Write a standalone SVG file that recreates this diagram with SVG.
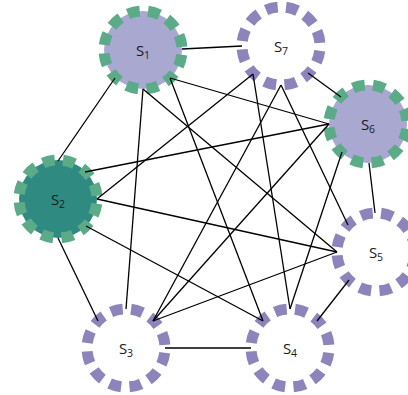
<svg xmlns="http://www.w3.org/2000/svg" width="408" height="395" viewBox="0 0 408 395">
  <style>
    /* r = 39: circumference 245.04, twelve dash periods of 20.42 */
    .ring { stroke-width: 11; stroke-dasharray: 12 8.42; stroke-dashoffset: -4.8; }
    .green { stroke: #5bab89; }
    .purple { stroke: #8d84bb; }
    .lav { fill: #a9a8d1; }
    .teal { fill: #2f8b81; }
    .white { fill: #ffffff; }
    .lbl { font-family: "Open Sans", "Liberation Sans", sans-serif; font-size: 15px; fill: #1a1a1a; text-anchor: middle; }
    .sub { font-size: 10.5px; }
    #edges line { stroke: #000000; stroke-width: 1.3; }
  </style>

  <!-- nodes: filled disk with a dashed ring -->
  <g id="S1">
    <circle cx="143" cy="50" r="39" class="ring lav green"/>
    <text class="lbl" x="143" y="56">S<tspan class="sub" dy="3">1</tspan></text>
  </g>
  <g id="S7">
    <circle cx="281" cy="46" r="39" class="ring white purple"/>
    <text class="lbl" x="281" y="52">S<tspan class="sub" dy="3">7</tspan></text>
  </g>
  <g id="S6">
    <circle cx="368" cy="124" r="39" class="ring lav green"/>
    <text class="lbl" x="368" y="130">S<tspan class="sub" dy="3">6</tspan></text>
  </g>
  <g id="S2">
    <circle cx="58" cy="199" r="39" class="ring teal green"/>
    <text class="lbl" x="58" y="205">S<tspan class="sub" dy="3">2</tspan></text>
  </g>
  <g id="S5">
    <circle cx="376" cy="252" r="39" class="ring white purple"/>
    <text class="lbl" x="376" y="258">S<tspan class="sub" dy="3">5</tspan></text>
  </g>
  <g id="S3">
    <circle cx="126" cy="348" r="39" class="ring white purple"/>
    <text class="lbl" x="126" y="354">S<tspan class="sub" dy="3">3</tspan></text>
  </g>
  <g id="S4">
    <circle cx="290" cy="348" r="39" class="ring white purple"/>
    <text class="lbl" x="290" y="354">S<tspan class="sub" dy="3">4</tspan></text>
  </g>

  <!-- connectors between anchor points on the rings -->
  <g id="edges">
    <line x1="182" y1="49" x2="242" y2="46"/>
    <line x1="115" y1="78" x2="58" y2="161"/>
    <line x1="143" y1="89" x2="126" y2="309"/>
    <line x1="143" y1="89" x2="337" y2="252"/>
    <line x1="170" y1="78" x2="329" y2="124"/>
    <line x1="170" y1="78" x2="263" y2="321"/>

    <line x1="253" y1="74" x2="97" y2="199"/>
    <line x1="253" y1="74" x2="290" y2="309"/>
    <line x1="281" y1="85" x2="153" y2="321"/>
    <line x1="281" y1="85" x2="348" y2="225"/>
    <line x1="308" y1="73" x2="341" y2="97"/>

    <line x1="329" y1="124" x2="85" y2="172"/>
    <line x1="329" y1="124" x2="153" y2="321"/>
    <line x1="342" y1="152" x2="290" y2="309"/>
    <line x1="369" y1="163" x2="375" y2="213"/>

    <line x1="97" y1="199" x2="337" y2="252"/>
    <line x1="86" y1="226" x2="263" y2="321"/>
    <line x1="58" y1="238" x2="98" y2="321"/>

    <line x1="153" y1="321" x2="337" y2="252"/>
    <line x1="165" y1="348" x2="251" y2="348"/>
    <line x1="317" y1="321" x2="349" y2="280"/>
  </g>
</svg>
